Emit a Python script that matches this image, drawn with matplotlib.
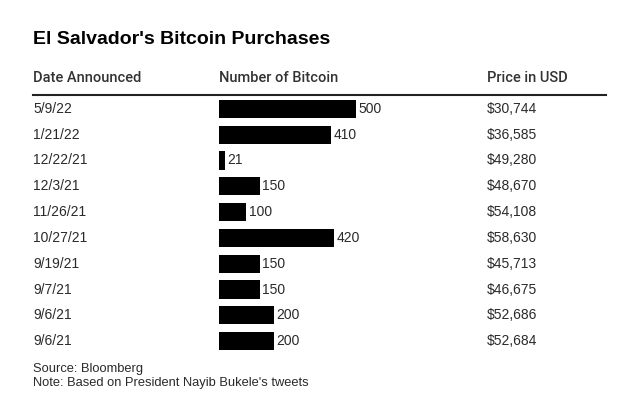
import matplotlib.pyplot as plt
import matplotlib.transforms as mtransforms

dates = ["5/9/22", "1/21/22", "12/22/21", "12/3/21", "11/26/21",
         "10/27/21", "9/19/21", "9/7/21", "9/6/21", "9/6/21"]
bitcoin = [500, 410, 21, 150, 100, 420, 150, 150, 200, 200]
prices = ["$30,744", "$36,585", "$49,280", "$48,670", "$54,108",
          "$58,630", "$45,713", "$46,675", "$52,686", "$52,684"]

plt.rcParams["font.family"] = ["Liberation Sans", "DejaVu Sans"]

W, H = 640, 400
fig = plt.figure(figsize=(W / 100, H / 100), dpi=100)
fig.patch.set_facecolor("white")

# bars axes: x 219..606 px, y 96..354 px
left, right, top, bottom = 219, 606, 96, 354
ax = fig.add_axes([left / W, 1 - bottom / H, (right - left) / W, (bottom - top) / H])
ax.set_xlim(0, (right - left) / 0.274)
ax.set_ylim(len(dates) - 0.5, -0.5)
ax.axis("off")

txt = "#2a2a2a"
ax.barh(range(len(bitcoin)), bitcoin, height=0.7, color="black")
for i, v in enumerate(bitcoin):
    ax.text(v + 8, i, str(v), va="center", ha="left", fontsize=10, color=txt)

tr = mtransforms.blended_transform_factory(fig.transFigure, ax.transData)
for i, (d, p) in enumerate(zip(dates, prices)):
    ax.text(33 / W, i, d, transform=tr, va="center", ha="left", fontsize=10, color=txt)
    ax.text(487 / W, i, p, transform=tr, va="center", ha="left", fontsize=10, color=txt)

fig.text(33 / W, 1 - 40 / H, "El Salvador's Bitcoin Purchases", fontsize=14,
         fontweight="bold", va="center", ha="left", color="black")
for x, s in [(33, "Date Announced"), (219, "Number of Bitcoin"), (487, "Price in USD")]:
    fig.text(x / W, 1 - 78 / H, s, fontsize=10.5, va="center", ha="left", color="#333333",
             family=["Roboto", "DejaVu Sans"], fontweight="medium")

fig.add_artist(plt.Line2D([33 / W, 606 / W], [1 - 95 / H, 1 - 95 / H],
                          transform=fig.transFigure, color="#222222", lw=1.5))

fig.text(33 / W, 1 - 369 / H, "Source: Bloomberg", fontsize=9.3, va="center", ha="left", color=txt)
fig.text(33 / W, 1 - 383 / H, "Note: Based on President Nayib Bukele's tweets", fontsize=9.3,
         va="center", ha="left", color=txt)

fig.savefig("out.png", dpi=100)
